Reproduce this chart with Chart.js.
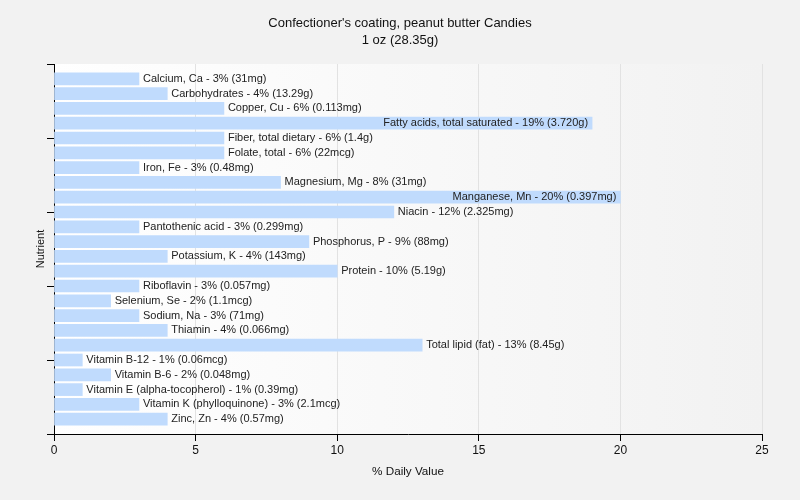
<!DOCTYPE html>
<html><head><meta charset="utf-8">
<script src="https://cdn.jsdelivr.net/npm/chart.js@4/dist/chart.umd.min.js"></script>
<style>html,body{margin:0;padding:0;background:#f2f2f2;}#wrap{width:800px;height:500px;}</style>
</head><body><div id="wrap"><canvas id="c" width="800" height="500"></canvas></div>
<script>
const titleLines = ["Confectioner's coating, peanut butter Candies", "1 oz (28.35g)"];
const nutrients = ["Calcium, Ca","Carbohydrates","Copper, Cu","Fatty acids, total saturated","Fiber, total dietary","Folate, total","Iron, Fe","Magnesium, Mg","Manganese, Mn","Niacin","Pantothenic acid","Phosphorus, P","Potassium, K","Protein","Riboflavin","Selenium, Se","Sodium, Na","Thiamin","Total lipid (fat)","Vitamin B-12","Vitamin B-6","Vitamin E (alpha-tocopherol)","Vitamin K (phylloquinone)","Zinc, Zn"];
const values = [3,4,6,19,6,6,3,8,20,12,3,9,4,10,3,2,3,4,13,1,2,1,3,4];
const amounts = ["31mg","13.29g","0.113mg","3.720g","1.4g","22mcg","0.48mg","31mg","0.397mg","2.325mg","0.299mg","88mg","143mg","5.19g","0.057mg","1.1mcg","71mg","0.066mg","8.45g","0.06mcg","0.048mg","0.39mg","2.1mcg","0.57mg"];
const xTicks = [0,5,10,15,20,25];
const yTicks = [0,5,10,15,20,25];
const xTitle = "% Daily Value";
const yTitle = "Nutrient";

const FONT = "'Liberation Sans', Arial, sans-serif";
const labels = nutrients.map((n,i)=>`${n} - ${values[i]}% (${amounts[i]})`);

const bgPlugin = {
  id:'bg',
  beforeDraw(chart){
    const {ctx, chartArea:a} = chart;
    ctx.save();
    ctx.fillStyle = '#f2f2f2';
    ctx.fillRect(0,0,chart.width,chart.height);
    const g = ctx.createLinearGradient(a.left,0,a.right,0);
    g.addColorStop(0,'#ffffff');
    g.addColorStop(1,'#f2f2f2');
    ctx.fillStyle = g;
    ctx.fillRect(a.left,a.top,a.right-a.left,a.bottom-a.top);
    ctx.restore();
  },
  afterDraw(chart){
    const {ctx} = chart;
    ctx.save();
    ctx.fillStyle = '#111';
    ctx.font = "13px " + FONT;
    ctx.textAlign = 'center';
    ctx.textBaseline = 'middle';
    ctx.fillText(titleLines[0], 400, 23);
    ctx.fillText(titleLines[1], 400, 40);
    ctx.restore();
  }
};

const labelPlugin = {
  id:'barLabels',
  afterDatasetsDraw(chart){
    const {ctx, chartArea:a} = chart;
    const meta = chart.getDatasetMeta(0);
    ctx.save();
    ctx.font = "11px " + FONT;
    ctx.fillStyle = '#222';
    ctx.textBaseline = 'middle';
    meta.data.forEach((el,i)=>{
      const t = labels[i];
      const w = ctx.measureText(t).width;
      if (el.x + 4 + w > a.right) {
        ctx.textAlign = 'right';
        ctx.fillText(t, el.x - 4, el.y);
      } else {
        ctx.textAlign = 'left';
        ctx.fillText(t, el.x + 4, el.y);
      }
    });
    ctx.restore();
  }
};

new Chart(document.getElementById('c'), {
  type:'bar',
  data:{
    datasets:[{
      data: values.map((v,i)=>({x:v, y:i+1})),
      backgroundColor:'#c0dbfd',
      borderWidth:0,
      barThickness:12
    }]
  },
  options:{
    indexAxis:'y',
    responsive:false,
    animation:false,
    layout:{padding:{left:0,right:38,top:64,bottom:0}},
    plugins:{legend:{display:false},tooltip:{enabled:false},title:{display:false}},
    scales:{
      x:{
        type:'linear', min:0, max:25,
        afterBuildTicks(s){ s.ticks = xTicks.map(v=>({value:v})); },
        afterFit(s){ s.height = 66; },
        grid:{color:'#e2e2e2', tickColor:'#000', tickLength:7, drawTicks:true},
        border:{color:'#000', width:1},
        ticks:{color:'#111', font:{family:FONT, size:12}, padding:2},
        title:{display:true, text:xTitle, color:'#111', font:{family:FONT, size:11.7}, padding:{top:0,bottom:21}}
      },
      y:{
        type:'linear', min:0, max:25, reverse:true, offset:false,
        afterBuildTicks(s){ s.ticks = yTicks.map(v=>({value:v})); },
        afterFit(s){ s.width = 54; },
        grid:{drawOnChartArea:false, offset:false, tickColor:'#000', tickLength:7},
        border:{color:'#000', width:1},
        ticks:{display:false},
        title:{display:true, text:yTitle, color:'#111', font:{family:FONT, size:11}, padding:{top:34,bottom:0}}
      }
    }
  },
  plugins:[bgPlugin,labelPlugin]
});
</script></body></html>
